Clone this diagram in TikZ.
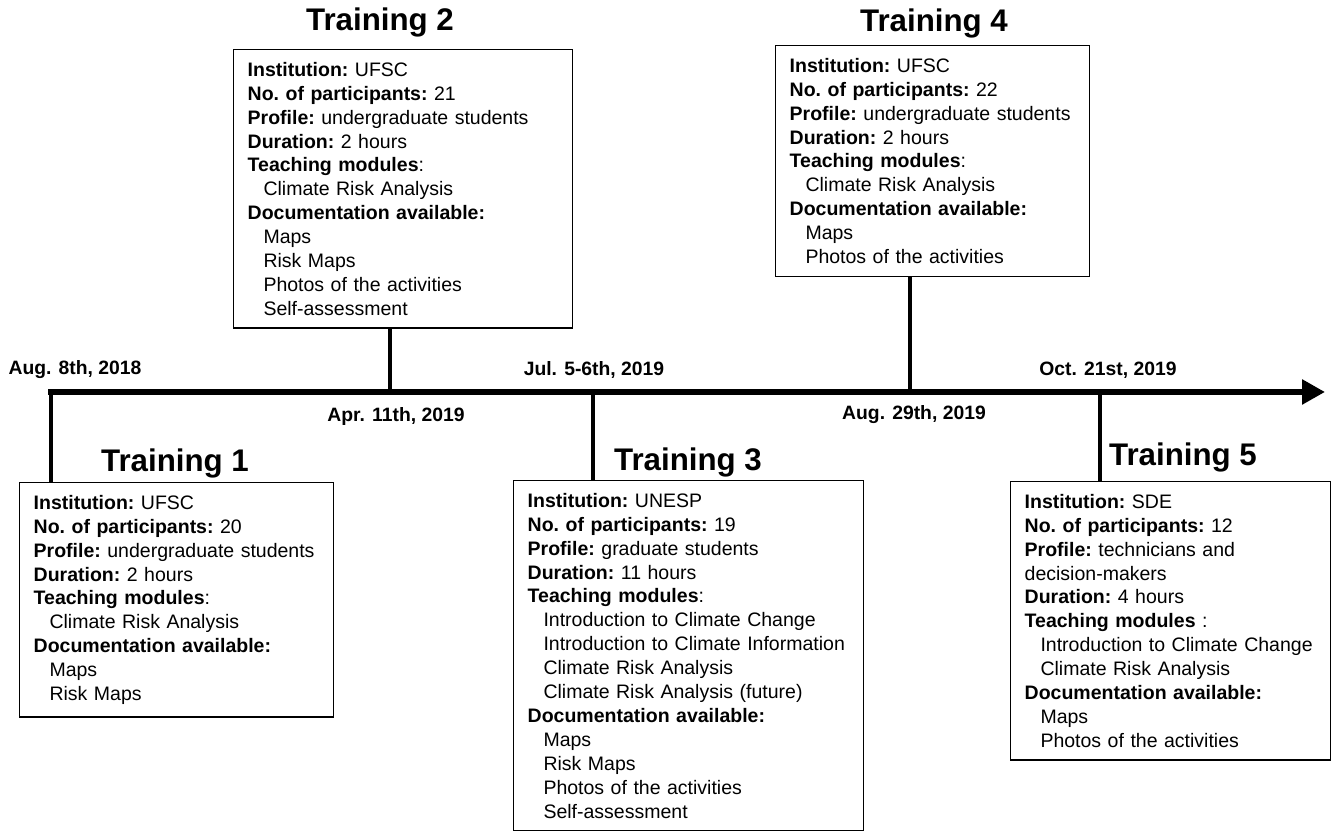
\documentclass[tikz,border=0pt]{standalone}
\usepackage{fontspec}
\setmainfont{Liberation Sans}
\usepackage{tikz}
\usetikzlibrary{arrows.meta}

\newcommand{\indt}{\hspace*{9pt}}
\newcommand{\bodyfont}{\fontsize{11.1}{13.6}\selectfont\frenchspacing\hyphenpenalty=10000}

\begin{document}
\begin{tikzpicture}
\useasboundingbox (0,0) rectangle (26.64,16.66);

% points on the time line
\coordinate (P1) at (1.02,8.82);
\coordinate (P2) at (7.8,8.82);
\coordinate (P3) at (11.86,8.82);
\coordinate (P4) at (18.2,8.82);
\coordinate (P5) at (22.0,8.82);
\coordinate (E) at (26.5,8.82);

\begin{scope}[every node/.style={rectangle,draw,line width=0.8pt,anchor=north west,
              align=left,inner xsep=0.28cm,inner ysep=0.25cm,font=\bodyfont}]
    \node[text width=5.72cm] (B1) at (0.38,7.02) {\textbf{Institution:} UFSC\\
        \textbf{No. of participants:} 20\\
        \textbf{Profile:} undergraduate students\\
        \textbf{Duration:} 2 hours\\
        \textbf{Teaching modules}:\\
        \indt Climate Risk Analysis\\
        \textbf{Documentation available:}\\
        \indt Maps\\
        \indt Risk Maps};
    \node[text width=6.22cm] (B2) at (4.66,15.68) {\textbf{Institution:} UFSC\\
        \textbf{No. of participants:} 21\\
        \textbf{Profile:} undergraduate students\\
        \textbf{Duration:} 2 hours\\
        \textbf{Teaching modules}:\\
        \indt Climate Risk Analysis\\
        \textbf{Documentation available:}\\
        \indt Maps\\
        \indt Risk Maps\\
        \indt Photos of the activities\\
        \indt Self-assessment};
    \node[text width=6.44cm] (B3) at (10.26,7.06) {\textbf{Institution:} UNESP\\
        \textbf{No. of participants:} 19\\
        \textbf{Profile:} graduate students\\
        \textbf{Duration:} 11 hours\\
        \textbf{Teaching modules}:\\
        \indt Introduction to Climate Change\\
        \indt Introduction to Climate Information\\
        \indt Climate Risk Analysis\\
        \indt Climate Risk Analysis (future)\\
        \textbf{Documentation available:}\\
        \indt Maps\\
        \indt Risk Maps\\
        \indt Photos of the activities\\
        \indt Self-assessment};
    \node[text width=5.72cm] (B4) at (15.5,15.76) {\textbf{Institution:} UFSC\\
        \textbf{No. of participants:} 22\\
        \textbf{Profile:} undergraduate students\\
        \textbf{Duration:} 2 hours\\
        \textbf{Teaching modules}:\\
        \indt Climate Risk Analysis\\
        \textbf{Documentation available:}\\
        \indt Maps\\
        \indt Photos of the activities};
    \node[text width=5.84cm] (B5) at (20.2,7.04) {\textbf{Institution:} SDE\\
        \textbf{No. of participants:} 12\\
        \textbf{Profile:} technicians and\\
        decision-makers\\
        \textbf{Duration:} 4 hours\\
        \textbf{Teaching modules} :\\
        \indt Introduction to Climate Change\\
        \indt Climate Risk Analysis\\
        \textbf{Documentation available:}\\
        \indt Maps\\
        \indt Photos of the activities};
\end{scope}

% titles
\begin{scope}[every node/.style={font=\fontsize{17.8}{21}\selectfont\bfseries}]
    \node (T1) at (3.5,7.4) {Training 1};
    \node (T2) at (7.6,16.22) {Training 2};
    \node (T3) at (13.76,7.42) {Training 3};
    \node (T4) at (18.68,16.2) {Training 4};
    \node (T5) at (23.66,7.52) {Training 5};
\end{scope}

% dates
\begin{scope}[every node/.style={font=\fontsize{11}{13}\selectfont\bfseries}]
    \node (D1) at (1.5,9.26) {Aug. 8th, 2018};
    \node (D2) at (7.92,8.32) {Apr. 11th, 2019};
    \node (D3) at (11.88,9.26) {Jul. 5-6th, 2019};
    \node (D4) at (18.28,8.36) {Aug. 29th, 2019};
    \node (D5) at (22.16,9.26) {Oct. 21st, 2019};
\end{scope}

\begin{scope}[>={Triangle[length=0.46cm,width=0.48cm]},
              every edge/.style={draw=black,line width=2.8pt}]
    \draw [->, line width=3.2pt, line cap=rect] (P1) -- (E);
    \path (P1) edge (P1 |- B1.north);
    \path (P2) edge (P2 |- B2.south);
    \path (P3) edge (P3 |- B3.north);
    \path (P4) edge (P4 |- B4.south);
    \path (P5) edge (P5 |- B5.north);
\end{scope}

\end{tikzpicture}
\end{document}
